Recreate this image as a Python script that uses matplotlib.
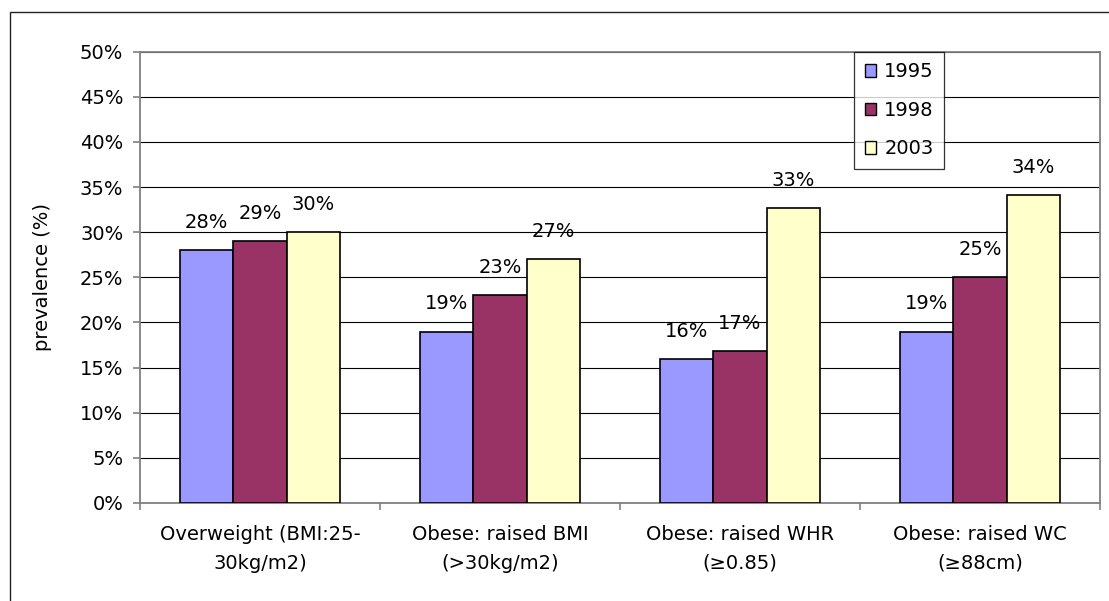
import numpy as np
import matplotlib
matplotlib.use("Agg")
import matplotlib.pyplot as plt
from matplotlib.patches import Rectangle
from matplotlib.ticker import FuncFormatter

# prevalence by measure and survey year (%)
categories = ["Overweight (BMI:25-\n30kg/m2)",
              "Obese: raised BMI\n(>30kg/m2)",
              "Obese: raised WHR\n(\u22650.85)",
              "Obese: raised WC\n(\u226588cm)"]
years = ["1995", "1998", "2003"]
prev_1995 = [28.0, 19.0, 15.9, 19.0]
prev_1998 = [29.0, 23.0, 16.8, 25.0]
prev_2003 = [30.0, 27.0, 32.7, 34.1]
colors = ["#9999FF", "#993366", "#FFFFCC"]

plt.rcParams["font.family"] = ["DejaVu Sans"]
FS = 14

fig = plt.figure(figsize=(11.09, 6.01), dpi=100)
W, H = 1109, 601
ax = fig.add_axes([140 / W, 1 - 503 / H, 960 / W, (503 - 51.7) / H])

# outer chart frame, runs off the right and bottom edge
fig.patches.append(Rectangle((10 / W, -0.1), 1.2, 1 - 12 / H + 0.1,
                             transform=fig.transFigure, fill=False,
                             edgecolor="#222222", linewidth=1.0))

x = np.arange(len(categories))
bw = 0.222
series = [prev_1995, prev_1998, prev_2003]
for i, (vals, lab, col) in enumerate(zip(series, years, colors)):
    bars = ax.bar(x + (i - 1) * bw, vals, width=bw, color=col,
                  edgecolor="black", linewidth=1.2, label=lab, zorder=3)
    for b, v in zip(bars, vals):
        ax.annotate(f"{v:.0f}%", (b.get_x() + b.get_width() / 2, v),
                    xytext=(0, 13), textcoords="offset points",
                    ha="center", va="bottom", fontsize=FS)

ax.set_xlim(-0.5, len(categories) - 0.5)
ax.set_ylim(0, 50)
ax.set_yticks(np.arange(0, 51, 5))
ax.yaxis.set_major_formatter(FuncFormatter(lambda v, p: f"{v:.0f}%"))
ax.yaxis.grid(True, color="black", linewidth=0.8, zorder=0)
ax.set_axisbelow(True)

ax.set_xticks(x)
ax.set_xticklabels(categories, fontsize=FS, linespacing=1.65)
ax.set_xticks(np.arange(-0.5, len(categories), 1.0), minor=True)
ax.tick_params(axis="x", which="major", length=0, pad=16)
ax.tick_params(axis="x", which="minor", length=5, width=1.2, color="#808080")
ax.tick_params(axis="y", length=5, width=1.2, color="#808080", pad=7,
               labelsize=FS)

for s in ax.spines.values():
    s.set_color("#808080")
    s.set_linewidth(1.3)

ax.set_ylabel("prevalence (%)", fontsize=14, labelpad=20)

leg = ax.legend(loc="upper left", bbox_to_anchor=(854 / W, 1 - 51.7 / H),
                bbox_transform=fig.transFigure, borderaxespad=0,
                fontsize=FS, frameon=True, fancybox=False, shadow=False,
                handlelength=0.6, handleheight=0.6, handletextpad=0.4,
                labelspacing=1.0, borderpad=0.55)
leg.get_frame().set_edgecolor("black")
leg.get_frame().set_linewidth(0.9)
for h in leg.legend_handles:
    h.set_linewidth(1.0)

fig.savefig("out.png", dpi=100)
